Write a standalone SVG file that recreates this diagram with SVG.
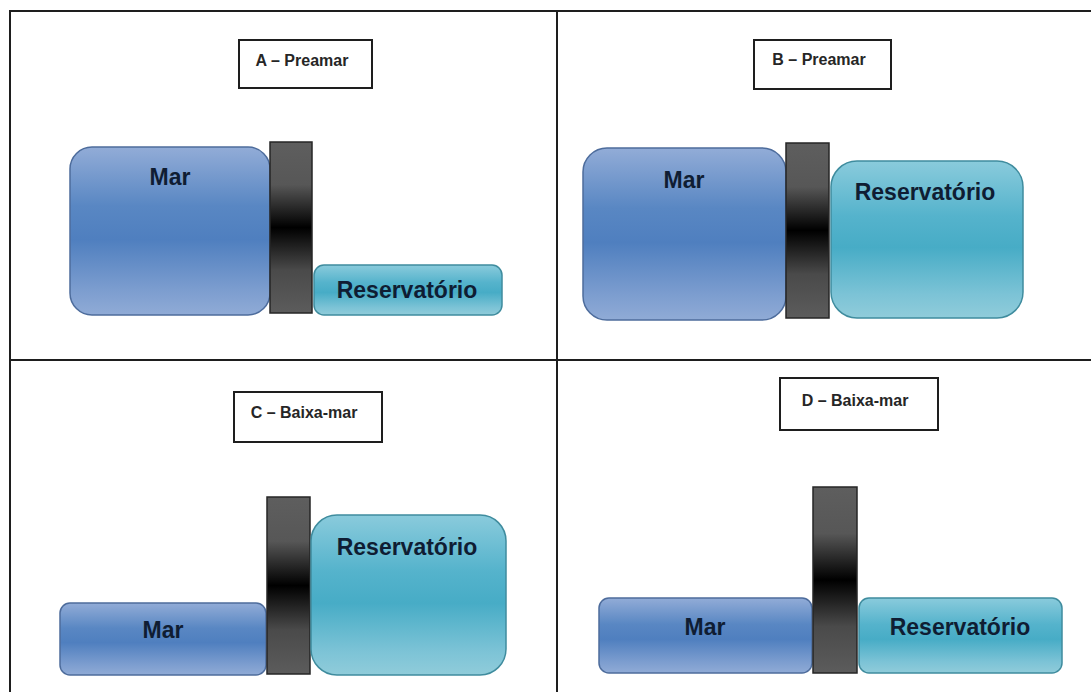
<svg xmlns="http://www.w3.org/2000/svg" width="1091" height="692" viewBox="0 0 1091 692">
<defs>
<linearGradient id="gMar" x1="0" y1="0" x2="0" y2="1">
<stop offset="0" stop-color="#92acd7"/>
<stop offset="0.35" stop-color="#5987c3"/>
<stop offset="0.55" stop-color="#4f7fbf"/>
<stop offset="0.85" stop-color="#7c9dcf"/>
<stop offset="1" stop-color="#90abd6"/>
</linearGradient>
<linearGradient id="gRes" x1="0" y1="0" x2="0" y2="1">
<stop offset="0" stop-color="#8acbdc"/>
<stop offset="0.35" stop-color="#55b3cc"/>
<stop offset="0.55" stop-color="#47acc6"/>
<stop offset="0.85" stop-color="#7cc3d6"/>
<stop offset="1" stop-color="#90ccda"/>
</linearGradient>
<linearGradient id="gGate" x1="0" y1="0" x2="0" y2="1">
<stop offset="0" stop-color="#5e5e5e"/>
<stop offset="0.25" stop-color="#575757"/>
<stop offset="0.5" stop-color="#000000"/>
<stop offset="0.75" stop-color="#4a4a4a"/>
<stop offset="1" stop-color="#5c5c5c"/>
</linearGradient>
</defs>
<style>
.frame{stroke:#1e1e1e;stroke-width:2;fill:none}
.lbox{fill:#ffffff;stroke:#1e1e1e;stroke-width:2}
.ltxt{font-family:"Liberation Sans",Arial,sans-serif;font-weight:bold;font-size:16px;fill:#262626;text-anchor:middle}
.mar{fill:url(#gMar);stroke:#4d6c9c;stroke-width:1.5}
.res{fill:url(#gRes);stroke:#3f8c9e;stroke-width:1.5}
.gate{fill:url(#gGate);stroke:#262626;stroke-width:1.5}
.ntxt{font-family:"Liberation Sans",Arial,sans-serif;font-weight:bold;font-size:23px;fill:#0f1d33;text-anchor:middle}
</style>
<rect width="1091" height="692" fill="#ffffff"/>
<g id="frame">
<line class="frame" x1="10" y1="11" x2="1091" y2="11"/>
<line class="frame" x1="10" y1="10" x2="10" y2="692"/>
<line class="frame" x1="557" y1="11" x2="557" y2="692"/>
<line class="frame" x1="10" y1="360" x2="1091" y2="360"/>
</g>
<g id="panelA">
<g id="labelA"><rect class="lbox" x="239" y="40" width="133" height="48"/><text class="ltxt" x="302" y="66">A – Preamar</text></g>
<g id="marA"><rect class="mar" x="70" y="147" width="200" height="168" rx="22"/><text class="ntxt" x="170" y="185">Mar</text></g>
<g id="gateA"><rect class="gate" x="270" y="142" width="42" height="171"/></g>
<g id="resA"><rect class="res" x="314" y="265" width="188" height="50" rx="10"/><text class="ntxt" x="407" y="298">Reservatório</text></g>
</g>
<g id="panelB">
<g id="labelB"><rect class="lbox" x="754" y="40" width="137" height="49"/><text class="ltxt" x="819" y="65">B – Preamar</text></g>
<g id="marB"><rect class="mar" x="583" y="148" width="203" height="172" rx="24"/><text class="ntxt" x="684" y="188">Mar</text></g>
<g id="gateB"><rect class="gate" x="786" y="143" width="43" height="175"/></g>
<g id="resB"><rect class="res" x="831" y="161" width="192" height="157" rx="26"/><text class="ntxt" x="925" y="200">Reservatório</text></g>
</g>
<g id="panelC">
<g id="labelC"><rect class="lbox" x="234" y="392" width="148" height="50"/><text class="ltxt" x="304" y="418">C – Baixa-mar</text></g>
<g id="marC"><rect class="mar" x="60" y="603" width="206" height="72" rx="10"/><text class="ntxt" x="163" y="638">Mar</text></g>
<g id="gateC"><rect class="gate" x="267" y="497" width="43" height="177"/></g>
<g id="resC"><rect class="res" x="311" y="515" width="195" height="160" rx="26"/><text class="ntxt" x="407" y="555">Reservatório</text></g>
</g>
<g id="panelD">
<g id="labelD"><rect class="lbox" x="780" y="378" width="158" height="52"/><text class="ltxt" x="855" y="406">D – Baixa-mar</text></g>
<g id="marD"><rect class="mar" x="599" y="598" width="213" height="75" rx="10"/><text class="ntxt" x="705" y="635">Mar</text></g>
<g id="gateD"><rect class="gate" x="813" y="487" width="44" height="186"/></g>
<g id="resD"><rect class="res" x="859" y="598" width="203" height="75" rx="10"/><text class="ntxt" x="960" y="635">Reservatório</text></g>
</g>
</svg>
